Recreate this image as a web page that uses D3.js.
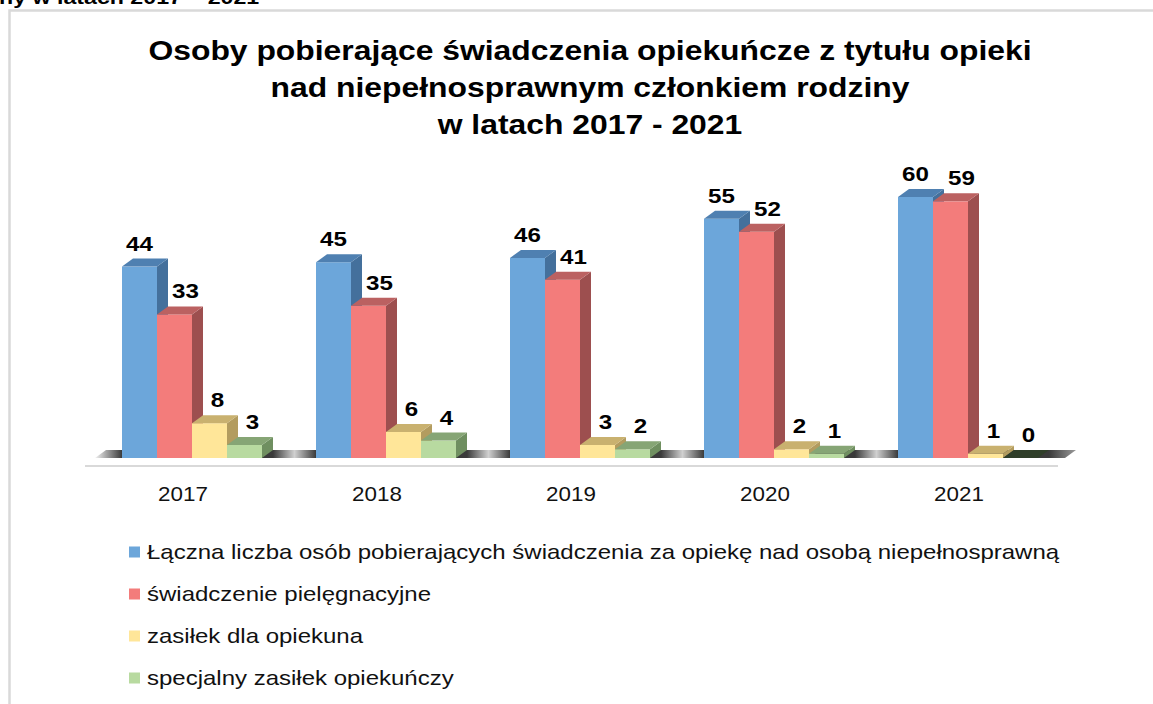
<!DOCTYPE html>
<html>
<head>
<meta charset="utf-8">
<script src="https://cdn.jsdelivr.net/npm/d3@7"></script>
<style>
  html, body { margin: 0; padding: 0; background: #fff; overflow: hidden; }
  svg { display: block; font-family: "Liberation Sans", Arial, sans-serif; }
</style>
</head>
<body>
<script>
// data
var years = ["2017", "2018", "2019", "2020", "2021"];
var seriesNames = [
  "Łączna liczba osób pobierających świadczenia za opiekę nad osobą niepełnosprawną",
  "świadczenie pielęgnacyjne",
  "zasiłek dla opiekuna",
  "specjalny zasiłek opiekuńczy"
];
var laczna = [44, 45, 46, 55, 60];
var pielegnacyjne = [33, 35, 41, 52, 59];
var zasilekOpiekuna = [8, 6, 3, 2, 1];
var specjalny = [3, 4, 2, 1, 0];
var titleLines = [
  "Osoby pobierające świadczenia opiekuńcze z tytułu opieki",
  "nad niepełnosprawnym członkiem rodziny",
  "w latach 2017 - 2021"
];

var series = [laczna, pielegnacyjne, zasilekOpiekuna, specjalny];
// front, top, side
var colors = [
  ["#6ca6da", "#4f80b1", "#44709c"],
  ["#f37c7b", "#bb6161", "#9d4f4f"],
  ["#ffe699", "#c9b16f", "#b39c5f"],
  ["#b8daa0", "#86a575", "#6f8f60"]
];
var labelShift = [0, 11, 8, 8];

var W = 1153, H = 704;
var dx = 11, dy = -8;

var svg = d3.select("body").append("svg")
  .attr("width", W)
  .attr("height", H);

var defs = svg.append("defs");

// the source picture is stretched sideways, so text gets a x-scale
function stretched(g, txt, x, y, k) {
  return g.append("text")
    .attr("transform", "translate(" + x + "," + y + ") scale(" + k + ",1)")
    .text(txt);
}

// cut-off heading of the page above
stretched(svg, "ny w latach 2017 – 2021", -1, 4, 1.22)
  .attr("font-size", 19).attr("font-weight", "bold").attr("fill", "#000");

// chart frame
svg.append("rect")
  .attr("x", 9.5).attr("y", 10.5)
  .attr("width", W + 20).attr("height", H + 20)
  .attr("fill", "none")
  .attr("stroke", "#d9d9d9")
  .attr("stroke-width", 2.5);

// title
var title = svg.append("g")
  .attr("font-size", 27)
  .attr("font-weight", "bold")
  .attr("fill", "#000")
  .attr("text-anchor", "middle");
titleLines.forEach(function (t, i) {
  stretched(title, t, 590, 60 + i * 37, 1.18);
});

var x0 = d3.scaleBand()
  .domain(years)
  .range([95, 1065])
  .paddingInner(54 / 194)
  .paddingOuter(27 / 194);

var x1 = d3.scaleBand()
  .domain(d3.range(series.length))
  .range([0, x0.bandwidth()]);

var y = d3.scaleLinear()
  .domain([0, 60])
  .range([458, 197]);

var y0 = y(0);
var fl = x0.range()[0], fr = x0.range()[1];

// floor shadow gradient
var grad = defs.append("linearGradient")
  .attr("id", "floorGrad")
  .attr("gradientUnits", "userSpaceOnUse")
  .attr("x1", fl).attr("x2", fr + dx)
  .attr("y1", 0).attr("y2", 0);
var span = fr + dx - fl;
function stop(px, c) {
  grad.append("stop").attr("offset", Math.max(0, Math.min(1, (px - fl) / span))).attr("stop-color", c);
}
stop(fl, "#f2f2f2");
years.forEach(function (yr, i) {
  var a = x0(yr), b = a + x0.bandwidth() + dx;
  if (i === 0) stop(a, "#3a3a3a");
  else {
    var pb = x0(years[i - 1]) + x0.bandwidth() + dx;
    stop(pb, "#3a3a3a");
    stop((pb + a) / 2, "#d0d0d0");
    stop(a, "#3a3a3a");
  }
  if (i === years.length - 1) {
    stop(b, "#3a3a3a");
    stop(fr + dx, "#9a9a9a");
  }
});

svg.append("path")
  .attr("d", "M" + fl + "," + y0 + "L" + fr + "," + y0 +
    "L" + (fr + dx) + "," + (y0 + dy) + "L" + (fl + dx) + "," + (y0 + dy) + "Z")
  .attr("fill", "url(#floorGrad)");

// axis line under floor
svg.append("line")
  .attr("x1", fl - 10).attr("x2", fr - 7)
  .attr("y1", y0 + 8).attr("y2", y0 + 8)
  .attr("stroke", "#d9d9d9")
  .attr("stroke-width", 2);

// bars
var bars = svg.append("g");
var cells = [];
years.forEach(function (yr, i) {
  series.forEach(function (s, j) {
    cells.push({ year: yr, s: j, v: s[i] });
  });
});

var bar = bars.selectAll("g.bar")
  .data(cells)
  .enter().append("g")
  .attr("class", "bar");

bar.each(function (d) {
  var g = d3.select(this);
  var l = x0(d.year) + x1(d.s), r = l + x1.bandwidth(), t = y(d.v);
  var c = colors[d.s];
  g.append("path")
    .attr("d", "M" + r + "," + y0 + "L" + (r + dx) + "," + (y0 + dy) +
      "L" + (r + dx) + "," + (t + dy) + "L" + r + "," + t + "Z")
    .attr("fill", c[2]);
  g.append("rect")
    .attr("x", l).attr("y", t)
    .attr("width", x1.bandwidth()).attr("height", y0 - t)
    .attr("fill", c[0]);
  g.append("path")
    .attr("d", "M" + l + "," + t + "L" + r + "," + t +
      "L" + (r + dx) + "," + (t + dy) + "L" + (l + dx) + "," + (t + dy) + "Z")
    .attr("fill", d.v === 0 ? "#2f3e29" : c[1]);
});

// data labels
var labels = svg.append("g")
  .attr("font-size", 21)
  .attr("font-weight", "bold")
  .attr("fill", "#000")
  .attr("text-anchor", "middle");
cells.forEach(function (d) {
  var cx = x0(d.year) + x1(d.s) + x1.bandwidth() / 2 + labelShift[d.s];
  stretched(labels, d.v, cx, y(d.v) - 16, 1.15);
});

// year labels
var xl = svg.append("g")
  .attr("font-size", 20)
  .attr("fill", "#111")
  .attr("text-anchor", "middle");
years.forEach(function (yr) {
  stretched(xl, yr, x0(yr) + x0.bandwidth() / 2 - 9, 501, 1.12);
});

// legend
var legend = svg.append("g")
  .attr("font-size", 20)
  .attr("fill", "#111");
seriesNames.forEach(function (n, i) {
  var cy = 552 + i * 42;
  legend.append("rect")
    .attr("x", 129).attr("y", cy - 5.5)
    .attr("width", 11).attr("height", 11)
    .attr("fill", colors[i][0]);
  stretched(legend, n, 147, cy + 7, 1.2);
});
</script>
</body>
</html>
